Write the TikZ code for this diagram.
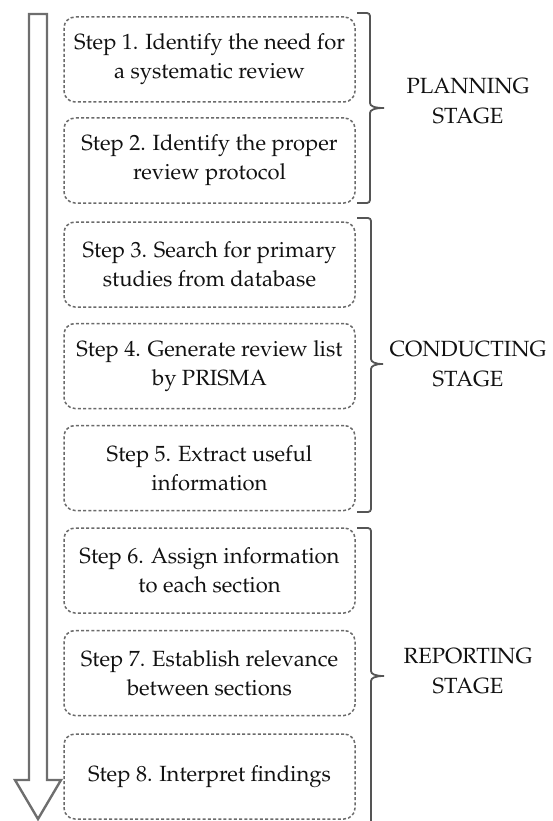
\documentclass[tikz,border=0pt]{standalone}
\usepackage[T1]{fontenc}
\usepackage{mathpazo}
\definecolor{arrowgray}{HTML}{6E6E6E}
\definecolor{boxgray}{HTML}{6A6A6A}
\definecolor{bracegray}{HTML}{555555}
\definecolor{txt}{HTML}{111111}
\tikzset{
  stepbox/.style={draw=boxgray, line width=1.5pt, dash pattern=on 3pt off 2.2pt,
    rounded corners=11pt, minimum width=291pt, minimum height=85pt,
    align=center, text=txt, font=\fontsize{22}{29}\selectfont, inner sep=0pt},
  stagelabel/.style={align=center, text=txt, font=\fontsize{22}{30}\selectfont},
  bigarrow/.style={draw=arrowgray, line width=2.4pt, line join=miter},
  bracestyle/.style={draw=bracegray, line width=1.8pt}
}
\begin{document}
\begin{tikzpicture}[x=1pt,y=-1pt]
\useasboundingbox (0,0) rectangle (552,821);
% big arrow
\draw[bigarrow] (29,14) -- (47,14) -- (47,780) -- (61,780) -- (38,819) -- (15,780) -- (29,780) -- cycle;
% step boxes
\node[stepbox] (s1) at (209.5,59.5) {Step 1. Identify the need for\\a systematic review};
\node[stepbox] (s2) at (209.5,160.5) {Step 2. Identify the proper\\review protocol};
\node[stepbox] (s3) at (209.5,264.5) {Step 3. Search for primary\\studies from database};
\node[stepbox] (s4) at (209.5,366) {Step 4. Generate review list\\by PRISMA};
\node[stepbox] (s5) at (209.5,468) {Step 5. Extract useful\\information};
\node[stepbox] (s6) at (209.5,570.5) {Step 6. Assign information\\to each section};
\node[stepbox] (s7) at (209.5,673) {Step 7. Establish relevance\\between sections};
\node[stepbox] (s8) at (209.5,776.5) {Step 8. Interpret findings};
% braces
\coordinate (p1) at (357,13); \coordinate (pt) at (384,108); \coordinate (p2) at (357,203);
\draw[bracestyle] (p1) -- (367,13) to[out=0,in=90] (370,16) -- (370,103)
  .. controls (370,106) and (374,108) .. (pt)
  .. controls (374,108) and (370,110) .. (370,113) -- (370,200) to[out=-90,in=0] (367,203) -- (p2);
\coordinate (c1) at (357,218); \coordinate (ct) at (383,364); \coordinate (c2) at (357,512);
\draw[bracestyle] (c1) -- (368,218) to[out=0,in=90] (371,221) -- (371,359)
  .. controls (371,362) and (375,364) .. (ct)
  .. controls (375,364) and (371,366) .. (371,369) -- (371,509) to[out=-90,in=0] (368,512) -- (c2);
\coordinate (r1) at (357,528); \coordinate (rt) at (384,676); \coordinate (r2) at (371,821);
\draw[bracestyle] (r1) -- (368,528) to[out=0,in=90] (371,531) -- (371,671)
  .. controls (371,674) and (375,676) .. (rt)
  .. controls (375,676) and (371,678) .. (371,681) -- (r2);
% stage labels
\node[stagelabel] (lp) at (468,101) {PLANNING\\STAGE};
\node[stagelabel] (lc) at (468,364) {CONDUCTING\\STAGE};
\node[stagelabel] (lr) at (468,671) {REPORTING\\STAGE};
\end{tikzpicture}
\end{document}
